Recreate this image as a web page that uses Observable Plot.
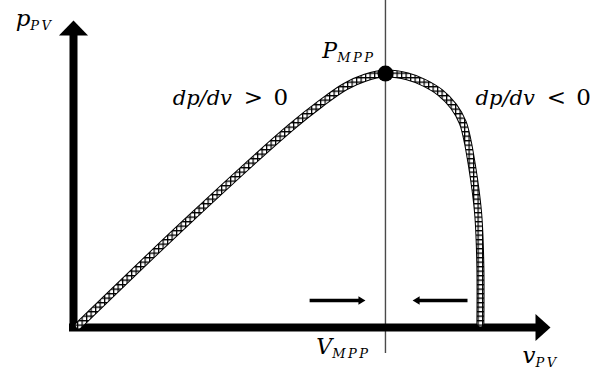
<!DOCTYPE html>
<html>
<head>
<meta charset="utf-8">
<script src="https://cdn.jsdelivr.net/npm/d3@7"></script>
<script src="https://cdn.jsdelivr.net/npm/@observablehq/plot@0.6"></script>
<style>
  body { margin: 0; background: #fff; }
  #chart svg text { white-space: pre; }
</style>
</head>
<body>
<div id="chart"></div>
<script>
// P–V characteristic of a PV source and its maximum power point (normalised units)
const voltage = [1.1, 24.5, 45.5, 51.8, 57.0, 61.2, 65.4, 70.0, 73.4, 76.9, 79.7, 81.6, 82.6, 83.6, 84.3, 84.9, 85.3, 85.3];
const power   = [0.7, 35.5, 65.1, 72.9, 78.5, 81.4, 82.7, 81.8, 79.8, 76.5, 72.0, 66.8, 60.9, 52.1, 44.6, 35.8, 19.5, 1.3];

// maximum power point
const vMpp = 65.4;
const pMpp = 82.7;

// axis extent (arrow tips)
const vMax = 100;
const pMax = 100;

// hill-climbing directions towards V_MPP
const perturbFrom = [49.5, 82.6];
const perturbTo   = [61.2, 71.1];
const perturbLevel = 8.8;

// texts ("_" starts a subscript)
const yLabel = "p_PV";
const xLabel = "v_PV";
const mppLabel = "P_MPP";
const vMppLabel = "V_MPP";
const slopeLabels = ["dp/dv > 0", "dp/dv < 0"];

const curve = voltage.map((v, i) => ({v, p: power[i]}));
const perturb = perturbFrom.map((v, i) => ({x1: v, x2: perturbTo[i], y: perturbLevel}));

// filled arrow head with its tip at the symbol origin, pointing up
const head = (spread) => ({
  draw(ctx, size) {
    const r = Math.sqrt(size / Math.PI);
    ctx.moveTo(0, 0);
    ctx.lineTo(r * spread, r);
    ctx.lineTo(-r * spread, r);
    ctx.closePath();
  }
});

const W = 591, H = 370;
const mL = 73, mR = 41, mT = 20, mB = 43;
const pxPerV = (W - mL - mR) / vMax;
const pxPerP = (H - mT - mB) / pMax;
const axisHead = 15;
const textFont = "DejaVu Serif";
const textStyle = {textAnchor: "start", lineAnchor: "bottom", fontFamily: textFont, fontStyle: "italic", fill: "black"};

const chart = Plot.plot({
  width: W,
  height: H,
  marginLeft: mL, marginRight: mR, marginTop: mT, marginBottom: mB,
  x: {domain: [0, vMax], axis: null},
  y: {domain: [0, pMax], axis: null},
  style: {fontFamily: textFont, background: "white", overflow: "visible"},
  marks: [
    // V_MPP marker line
    Plot.ruleX([vMpp], {y1: -26 / pxPerP, y2: pMax + mT / pxPerP, stroke: "#4a4a4a", strokeWidth: 1.4}),
    // axes
    Plot.ruleX([0], {y1: 0, y2: pMax - axisHead / pxPerP, stroke: "black", strokeWidth: 8, strokeLinecap: "square"}),
    Plot.ruleY([0], {x1: 0, x2: vMax - axisHead / pxPerV, stroke: "black", strokeWidth: 8, strokeLinecap: "square"}),
    Plot.dot([{v: 0, p: pMax}], {x: "v", y: "p", symbol: head(0.97), r: axisHead, fill: "black", stroke: "none"}),
    Plot.dot([{v: vMax, p: 0}], {x: "v", y: "p", symbol: head(0.9), r: axisHead, rotate: 90, fill: "black", stroke: "none"}),
    // P–V curve, drawn as a chain of small cells
    Plot.line(curve, {x: "v", y: "p", curve: "catmull-rom", stroke: "black", strokeWidth: 8}),
    Plot.line(curve, {x: "v", y: "p", curve: "catmull-rom", stroke: "url(#pv-cells)", strokeWidth: 6}),
    // maximum power point
    Plot.dot([{v: vMpp, p: pMpp}], {x: "v", y: "p", r: 8, fill: "black", stroke: "none"}),
    // perturbation direction arrows
    Plot.link(perturb, {x1: "x1", x2: d => d.x2 - Math.sign(d.x2 - d.x1) * 6 / pxPerV, y1: "y", y2: "y", stroke: "black", strokeWidth: 3.5}),
    Plot.dot(perturb, {x: "x2", y: "y", symbol: head(0.6), r: 7, rotate: d => d.x2 > d.x1 ? 90 : -90, fill: "black", stroke: "none"}),
    // labels
    Plot.text([{v: 0, p: pMax, t: yLabel}], {...textStyle, x: "v", y: "p", text: "t", dx: -20, dy: 5, textAnchor: "end", fontSize: 23}),
    Plot.text([{v: vMax, p: 0, t: xLabel}], {...textStyle, x: "v", y: "p", text: "t", dx: -28, dy: 35, fontSize: 23}),
    Plot.text([{v: vMpp, p: pMpp, t: mppLabel}], {...textStyle, x: "v", y: "p", text: "t", dx: -10, dy: -16, textAnchor: "end", fontSize: 22}),
    Plot.text([{v: vMpp, p: 0, t: vMppLabel}], {...textStyle, x: "v", y: "p", text: "t", dx: -15, dy: 26, textAnchor: "end", fontSize: 22}),
    Plot.text([{v: 20.8, p: 72.6, t: slopeLabels[0]}, {v: 84.3, p: 72.6, t: slopeLabels[1]}], {...textStyle, x: "v", y: "p", text: "t", fontSize: 21})
  ]
});

// cell pattern used to stroke the curve
const svg = d3.select(chart);
const pat = svg.insert("defs", ":first-child")
  .append("pattern")
  .attr("id", "pv-cells")
  .attr("patternUnits", "userSpaceOnUse")
  .attr("width", 4.5).attr("height", 4.5);
pat.append("rect").attr("width", 4.5).attr("height", 4.5).attr("fill", "white");
pat.append("path").attr("d", "M0,0.6H4.5M0.6,0V4.5").attr("stroke", "black").attr("stroke-width", 1.3).attr("fill", "none");

// italic letters, upright symbols and digits, small subscripts
svg.selectAll("g[aria-label='text'] text").each(function () {
  const [main, sub] = this.textContent.split("_");
  const t = d3.select(this).text(null);
  for (const run of main.match(/[A-Za-z\/]+|[^A-Za-z\/]+/g)) {
    const span = t.append("tspan").text(run);
    if (!/[A-Za-z]/.test(run)) span.attr("font-style", "normal").attr("font-size", 23).attr("dx", 3).attr("letter-spacing", 1.5);
  }
  if (sub) {
    t.append("tspan").attr("font-size", 13).attr("dy", 4).attr("letter-spacing", 2.5).text(sub);
  }
});

document.getElementById("chart").append(chart);
</script>
</body>
</html>
